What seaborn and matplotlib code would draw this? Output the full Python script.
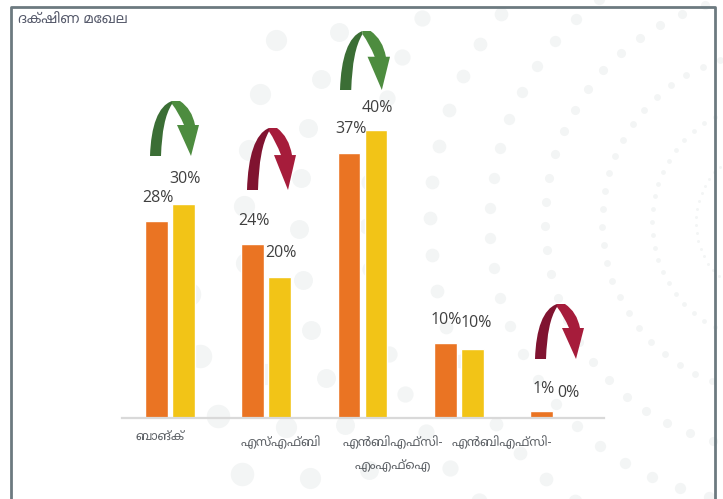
import numpy as np
import pandas as pd
import matplotlib
matplotlib.use("Agg")
import matplotlib.pyplot as plt
from matplotlib.patches import PathPatch
from matplotlib.path import Path
from matplotlib.transforms import ScaledTranslation
import seaborn as sns

# values
categories = ["ബാങ്ക്", "എസ്എഫ്ബി", "എൻബിഎഫ്സി-\nഎംഎഫ്ഐ", "എൻബിഎഫ്സി-", " "]
first_values = [27.5, 24.2, 37.0, 10.4, 0.9]
second_values = [29.9, 19.7, 40.2, 9.6, 0.0]
first_labels = ["28%", "24%", "37%", "10%", "1%"]
second_labels = ["30%", "20%", "40%", "10%", "0%"]
title = "ദക്ഷിണ മേഖല"

# label nudges in pixels (dx, dy above the bar top)
first_nudge = [(1.5, 22.5), (1.5, 23.5), (1.5, 23.5), (1, 23.5), (1.5, 22.5)]
second_nudge = [(1.5, 24.5), (1, 23.5), (1.5, 21.5), (4, 25.5), (0, 24.5)]
tick_nudge = [(-10, -8), (15, -13), (30, -13), (43, -13), (0, -13)]

# arrows: left, top, width, height in pixels, dark colour, light colour
arrows = [
    (150, 101, 49, 55, "#3b6e35", "#4d8c3f"),
    (247, 128, 49, 62, "#801330", "#a61c3b"),
    (340, 31, 50, 59, "#3b6e35", "#4d8c3f"),
    (535, 304, 49, 55, "#801330", "#a61c3b"),
]

# background dot rings: radius, angle phase, highest angle shown
rings = [(76, 3.8, 180), (120, 0, 180), (170, 4.4, 180), (227, 5.1, 180), (282, 2.9, 180),
         (342, 0.6, 180), (405, 5.6, 180), (473, 5.3, 180), (528, 1.7, 180), (587, -7, -6)]

W, H = 723, 499
sns.set_theme(style="white")
plt.rcParams["font.family"] = ["Noto Sans Malayalam", "Open Sans", "DejaVu Sans"]

df = pd.DataFrame({
    "group": categories * 2,
    "value": first_values + second_values,
    "period": ["a"] * 5 + ["b"] * 5,
})

fig = plt.figure(figsize=(W / 100, H / 100), dpi=100, facecolor="white")

# background layer in pixel coords
bg = fig.add_axes([0, 0, 1, 1], zorder=0)
bg.set_xlim(0, W)
bg.set_ylim(H, 0)
bg.axis("off")
cx, cy = 772, 222
for r, phase, upper in rings:
    a = phase + 6.15 * np.arange(-29, 30)
    a = np.radians(a[a <= upper])
    bg.scatter(cx - r * np.cos(a), cy - r * np.sin(a), s=(r * 0.04 * 0.72) ** 2,
               color="#f3f5f5", linewidths=0)

# chart
ax = fig.add_axes([122 / W, 1 - 417.6 / H, 482 / W, 358 / H], zorder=1)
ax.patch.set_alpha(0)
sns.barplot(data=df, x="group", y="value", hue="period", order=categories,
            palette=["#ea7423", "#f2c417"], width=0.56, gap=0.16, saturation=1,
            legend=False, ax=ax)
ax.set_xlim(-0.495, 4.505)
ax.set_ylim(0, 50)
ax.set_xlabel("")
ax.set_ylabel("")
ax.set_yticks([])
sns.despine(ax=ax, left=True)
ax.spines["bottom"].set_color("#d9d9d9")
ax.spines["bottom"].set_linewidth(1.6)
ax.tick_params(axis="x", length=0)

for lab, (dx, dy) in zip(ax.get_xticklabels(), tick_nudge):
    lab.set_transform(lab.get_transform() + ScaledTranslation(dx / 100, dy / 100, fig.dpi_scale_trans))
    lab.set_fontsize(9)
    lab.set_color("#5f6368")
    lab.set_linespacing(2.0)

for bars, labels, nudges in [(ax.containers[0], first_labels, first_nudge),
                             (ax.containers[1], second_labels, second_nudge)]:
    for bar, text, (dx, dy) in zip(bars, labels, nudges):
        ax.annotate(text, (bar.get_x() + bar.get_width() / 2, bar.get_height()),
                    xytext=(dx, dy), textcoords="offset pixels", ha="center", va="center",
                    fontsize=11.5, color="#404040", family="Open Sans", annotation_clip=False)

# overlay: frame, title, arrows
top = fig.add_axes([0, 0, 1, 1], zorder=2)
top.set_xlim(0, W)
top.set_ylim(H, 0)
top.axis("off")
top.plot([11, 11, 715, 715], [H, 7, 7, H], color="#6c7a80", lw=2)
top.text(18, 20.5, title, fontsize=10, color="#565a6b", va="center")

dark_verts = [(0, 55), (1, 25), (8, 5), (22, 0), (22, 3), (15, 14), (12, 30), (11, 55), (0, 55)]
dark_codes = [Path.MOVETO, Path.CURVE4, Path.CURVE4, Path.CURVE4, Path.LINETO,
              Path.CURVE4, Path.CURVE4, Path.CURVE4, Path.CLOSEPOLY]
light_verts = [(22, 0), (30, 0), (42, 8), (45, 24), (49, 24), (41, 55), (27, 24), (34, 24),
               (29, 12), (22, 3), (22, 0)]
light_codes = [Path.MOVETO, Path.LINETO, Path.CURVE3, Path.CURVE3, Path.LINETO, Path.LINETO, Path.LINETO,
               Path.LINETO, Path.CURVE3, Path.CURVE3, Path.CLOSEPOLY]
for left, upper, w, h, dark, light in arrows:
    sx, sy = w / 49, h / 55
    for verts, codes, col in [(dark_verts, dark_codes, dark), (light_verts, light_codes, light)]:
        pts = [(left + x * sx, upper + y * sy) for x, y in verts]
        top.add_patch(PathPatch(Path(pts, codes), facecolor=col, edgecolor="none"))

fig.savefig("out.png", dpi=100)
